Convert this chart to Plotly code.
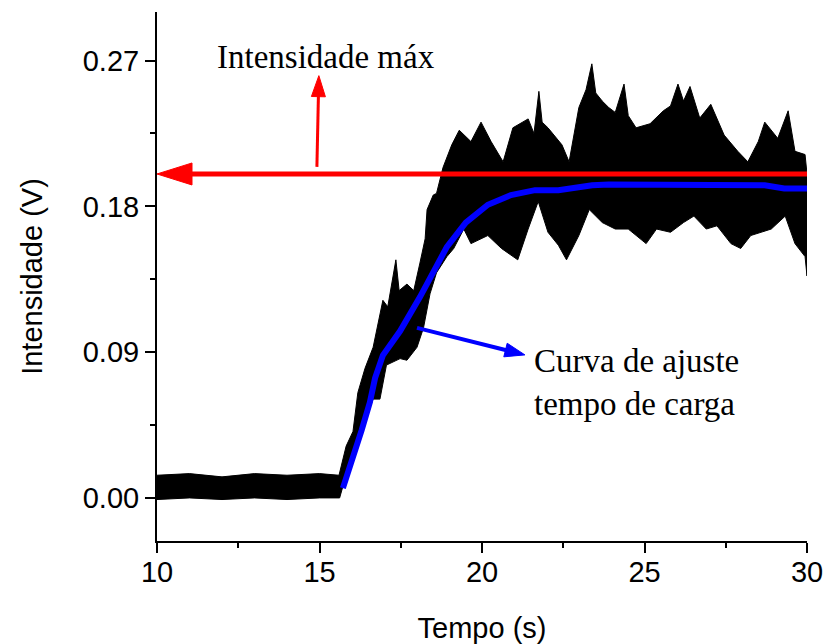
import plotly.graph_objects as go

# ---------------- data ----------------
# upper / lower envelope of the noisy measured signal
upper_x = [10.0, 11.0, 12.0, 13.0, 14.0, 15.0, 15.6,
           15.82, 16.03, 16.18, 16.4, 16.65, 16.95, 17.1, 17.35, 17.45, 17.69, 17.9, 18.09, 18.25,
           18.31, 18.5, 18.6, 18.8, 19.07, 19.3, 19.66, 19.97, 20.28, 20.65, 20.95, 21.42, 21.6,
           21.75, 21.85, 22.03, 22.46, 22.68, 22.98, 23.2, 23.38, 23.5, 23.7, 23.9, 24.1, 24.37,
           24.5, 24.74, 25.17, 25.58, 25.8, 26.03, 26.2, 26.4, 26.7, 27.04, 27.45, 27.87, 28.18,
           28.5, 28.7, 29.1, 29.42, 29.63, 29.94, 30.0]
upper_y = [0.014, 0.015, 0.013, 0.015, 0.014, 0.015, 0.014,
           0.032, 0.041, 0.065, 0.080, 0.093, 0.122, 0.118, 0.147, 0.128, 0.132, 0.128, 0.145, 0.160,
           0.178, 0.187, 0.188, 0.204, 0.218, 0.227, 0.220, 0.232, 0.220, 0.2075, 0.2285, 0.234, 0.225,
           0.251, 0.232, 0.2285, 0.218, 0.2075, 0.241, 0.252, 0.268, 0.250, 0.245, 0.241, 0.238, 0.2555,
           0.236, 0.2285, 0.231, 0.239, 0.242, 0.2555, 0.245, 0.254, 0.2345, 0.243, 0.224, 0.214, 0.2075,
           0.220, 0.232, 0.222, 0.239, 0.214, 0.212, 0.200]

lower_x = [10.0, 11.0, 12.0, 13.0, 14.0, 15.0, 15.62,
           15.9, 16.2, 16.65, 16.86, 17.06, 17.48, 17.69, 18.0, 18.2, 18.4, 18.6, 18.92, 19.13,
           19.44, 19.66, 20.18, 20.6, 21.1, 21.42, 21.73, 22.03, 22.35, 22.6, 22.98, 23.3, 23.7,
           24.1, 24.5, 25.05, 25.37, 25.8, 26.2, 26.52, 26.9, 27.23, 27.66, 27.96, 28.27, 28.58,
           28.9, 29.33, 29.63, 29.94, 30.0]
lower_y = [-0.001, 0.0, -0.001, 0.0, -0.001, 0.0, 0.0,
           0.020, 0.036, 0.061, 0.061, 0.082, 0.086, 0.085, 0.093, 0.105, 0.126, 0.139, 0.149, 0.154,
           0.166, 0.157, 0.162, 0.154, 0.147, 0.166, 0.183, 0.164, 0.156, 0.147, 0.162, 0.178, 0.170,
           0.166, 0.166, 0.157, 0.166, 0.164, 0.170, 0.174, 0.166, 0.168, 0.157, 0.154, 0.162, 0.164,
           0.166, 0.174, 0.157, 0.149, 0.137]

# fitted charging curve
fit_x = [15.72, 16.03, 16.3, 16.55, 16.71, 16.95, 17.48, 18.09, 18.92, 19.5, 20.18, 20.89,
         21.63, 22.35, 23.39, 23.9, 25.0, 26.0, 27.0, 28.7, 29.3, 30.0]
fit_y = [0.006, 0.024, 0.042, 0.059, 0.074, 0.088, 0.103, 0.124, 0.155, 0.170, 0.181, 0.187,
         0.190, 0.190, 0.193, 0.1935, 0.1935, 0.1935, 0.1935, 0.193, 0.191, 0.191]

max_intensity = 0.200
x_ticks = [10, 15, 20, 25, 30]
y_ticks = [0.00, 0.09, 0.18, 0.27]

# ---------------- layout geometry ----------------
W, H = 826, 644
ML, MR, MT, MB = 157, 19, 12, 103
XR = [10, 30]
YR = [-0.0266, 0.300]
pw, ph = W - ML - MR, H - MT - MB
sx = pw / (XR[1] - XR[0])
sy = ph / (YR[1] - YR[0])


def to_px(x, y):
    return (x - XR[0]) * sx, (y - YR[0]) * sy


def to_data(px, py):
    return px / sx + XR[0], py / sy + YR[0]


def arrow(x0, y0, x1, y1, head_len, head_half, width, color):
    """line from (x0,y0) to tip (x1,y1) with a filled triangular head (pixel sizes)."""
    p0 = to_px(x0, y0)
    p1 = to_px(x1, y1)
    dx, dy = p1[0] - p0[0], p1[1] - p0[1]
    L = (dx * dx + dy * dy) ** 0.5
    ux, uy = dx / L, dy / L
    nx, ny = -uy, ux
    bx, by = p1[0] - ux * head_len, p1[1] - uy * head_len
    a = to_data(bx + nx * head_half, by + ny * head_half)
    b = to_data(bx - nx * head_half, by - ny * head_half)
    base = to_data(bx + ux * 2, by + uy * 2)
    return [
        dict(type="line", xref="x", yref="y", x0=x0, y0=y0, x1=base[0], y1=base[1],
             line=dict(color=color, width=width)),
        dict(type="path", xref="x", yref="y",
             path=f"M {x1},{y1} L {a[0]},{a[1]} L {b[0]},{b[1]} Z",
             fillcolor=color, line=dict(color=color, width=1)),
    ]


fig = go.Figure()

# noisy signal drawn as its envelope
poly_x = upper_x + lower_x[::-1]
poly_y = upper_y + lower_y[::-1]
fig.add_trace(go.Scatter(x=poly_x, y=poly_y, mode="lines", fill="toself",
                         fillcolor="black", line=dict(color="black", width=1),
                         hoverinfo="skip", showlegend=False))

# fitted curve
fig.add_trace(go.Scatter(x=fit_x, y=fit_y, mode="lines",
                         line=dict(color="#0000ff", width=6),
                         showlegend=False))

shapes = []
shapes += arrow(30.2, max_intensity, 10.0, max_intensity, 35, 11, 5, "#ff0000")
shapes += arrow(14.92, 0.2044, 14.98, 0.2607, 21, 7, 3, "#ff0000")
shapes += arrow(18.0, 0.105, 21.32, 0.0883, 20, 7, 4, "#0000ff")

serif = "Liberation Serif, Times New Roman, serif"
sans = "Liberation Sans, Arial, sans-serif"

annotations = [
    dict(x=15.21, y=0.272, xref="x", yref="y", text="Intensidade máx", showarrow=False,
         font=dict(family=serif, size=33, color="black"), xanchor="center", yanchor="middle"),
    dict(x=21.55, y=0.071, xref="x", yref="y", text="Curva de ajuste<br>tempo de carga",
         showarrow=False, align="left",
         font=dict(family=serif, size=33, color="black"), xanchor="left", yanchor="middle"),
]

axis_common = dict(showline=True, linecolor="black", linewidth=2, mirror=False,
                   ticks="outside", ticklen=10, tickwidth=2, tickcolor="black",
                   showgrid=False, zeroline=False, automargin=False,
                   tickfont=dict(family=sans, size=29))

fig.update_layout(
    width=W, height=H,
    margin=dict(l=ML, r=MR, t=MT, b=MB, pad=0),
    paper_bgcolor="white", plot_bgcolor="white",
    shapes=shapes, annotations=annotations,
    font=dict(family=sans, size=29, color="black"),
    xaxis=dict(range=XR, tickmode="array", tickvals=x_ticks, ticklabelstandoff=-6,
               minor=dict(dtick=2.5, tick0=10, ticks="outside", ticklen=5, tickwidth=2, tickcolor="black"),
               title=dict(text="Tempo (s)", font=dict(family=sans, size=29), standoff=36),
               **axis_common),
    yaxis=dict(range=YR, tickmode="array", tickvals=y_ticks, tickformat=".2f",
               minor=dict(dtick=0.045, tick0=0, ticks="outside", ticklen=5, tickwidth=2, tickcolor="black"),
               title=dict(text="Intensidade (V)", font=dict(family=sans, size=29), standoff=32),
               **axis_common),
)

fig.write_html("out.html")
